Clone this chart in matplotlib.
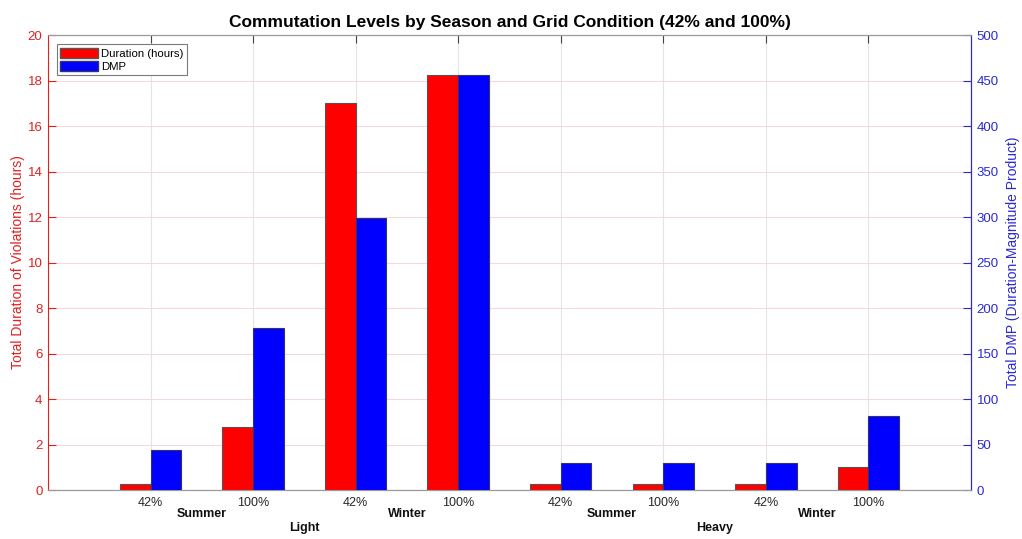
import matplotlib
matplotlib.use("Agg")
import matplotlib.pyplot as plt
from matplotlib.patches import Patch
from matplotlib.transforms import blended_transform_factory
import numpy as np

plt.rcParams['font.family'] = ['Liberation Sans', 'DejaVu Sans']

# Scenario order: grid condition -> season -> commutation level
commutation = ["42%", "100%", "42%", "100%", "42%", "100%", "42%", "100%"]
seasons = ["Summer", "Winter", "Summer", "Winter"]
grid_conditions = ["Light", "Heavy"]

duration_hours = [0.25, 2.75, 17.0, 18.25, 0.25, 0.25, 0.25, 1.0]
dmp_values = [44, 178, 299, 456, 29.5, 29.5, 29.5, 81.5]

RED_AX = "#e02020"
BLUE_AX = "#2a2ad0"

fig = plt.figure(figsize=(10.22, 5.39), dpi=100)
ax1 = fig.add_axes([0.047, 0.0909, 0.903, 0.844])
ax2 = ax1.twinx()

x = np.arange(1, len(commutation) + 1)
w = 0.3

ax1.bar(x - w / 2, duration_hours, width=w, color="#ff0000",
        edgecolor="#555555", linewidth=0.8, zorder=3)
ax2.bar(x + w / 2, dmp_values, width=w, color="#0000ff",
        edgecolor="#333366", linewidth=0.8, zorder=3)

ax1.set_xlim(0, 9)
ax1.set_ylim(0, 20)
ax2.set_ylim(0, 500)
ax1.set_yticks(np.arange(0, 21, 2))
ax2.set_yticks(np.arange(0, 501, 50))
ax1.set_xticks(x)
ax1.set_xticklabels(commutation, fontsize=9, color="#262626")

# grid
ax1.set_axisbelow(True)
ax1.xaxis.grid(True, color="#e4e4e4", linewidth=0.8)
ax1.yaxis.grid(True, color="#f6dada", linewidth=0.8)

# spines and ticks
ax1.spines['left'].set_color(RED_AX)
ax1.spines['bottom'].set_color("#9a9a9a")
ax1.spines['top'].set_color("#9a9a9a")
ax2.spines['right'].set_color(BLUE_AX)
ax2.spines['left'].set_visible(False)
ax2.spines['top'].set_color("#9a9a9a")
ax2.spines['bottom'].set_color("#9a9a9a")

ax1.tick_params(axis='y', colors=RED_AX, labelsize=9.5, direction='in',
                length=6, width=0.8, pad=4)
ax1.tick_params(axis='x', direction='in', length=6, width=0.8,
                top=True, colors="#262626", pad=5)
ax1.tick_params(axis='x', which='both', color="#444444")
ax2.tick_params(axis='y', colors=BLUE_AX, labelsize=9.5, direction='in',
                length=6, width=0.8, pad=4)

ax1.set_ylabel("Total Duration of Violations (hours)", color=RED_AX,
               fontsize=10, labelpad=2)
ax2.set_ylabel("Total DMP (Duration-Magnitude Product)", color=BLUE_AX,
               fontsize=10, labelpad=5)

ax1.set_title("Commutation Levels by Season and Grid Condition (42% and 100%)",
              fontsize=12.5, fontweight='bold', pad=6)

# hierarchical group labels below the tick labels
trans = blended_transform_factory(ax1.transData, ax1.transAxes)
for i, s in enumerate(seasons):
    ax1.text(1.5 + 2 * i, -0.053, s, transform=trans, ha='center',
             va='center', fontsize=9, fontweight='bold', color="#111111")
for i, g in enumerate(grid_conditions):
    ax1.text(2.5 + 4 * i, -0.084, g, transform=trans, ha='center',
             va='center', fontsize=9, fontweight='bold', color="#111111")

handles = [Patch(facecolor="#ff0000", edgecolor="#555555", label="Duration (hours)"),
           Patch(facecolor="#0000ff", edgecolor="#333366", label="DMP")]
leg = ax2.legend(handles=handles, loc='upper left', bbox_to_anchor=(0.0095, 0.98),
                 fontsize=8.2, fancybox=False, framealpha=1, edgecolor="#7a7a7a",
                 handlelength=3.3, handleheight=1.0, handletextpad=0.3,
                 borderpad=0.3, labelspacing=0.2, borderaxespad=0)
leg.get_frame().set_linewidth(0.8)

fig.savefig("out.png", dpi=100)
